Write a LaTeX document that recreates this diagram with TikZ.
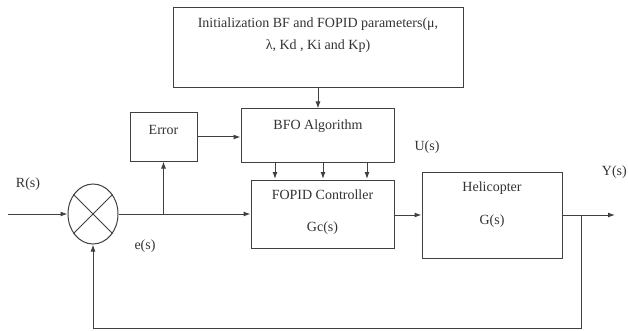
\documentclass[tikz,border=0pt]{standalone}
\usepackage{fontspec}
\setmainfont{Liberation Serif}
\usetikzlibrary{shapes.geometric,arrows.meta}

\begin{document}
\begin{tikzpicture}[x=1pt,y=-1pt]
\tikzstyle{every node}=[font=\fontsize{14}{22}\selectfont,text=black!80];
\tikzstyle{block}=[draw=black!75,line width=1pt,inner sep=0pt];
\tikzstyle{arrow}=[draw=black!75,line width=1pt,-{Latex[length=7pt,width=5pt]}];
\tikzstyle{wire}=[draw=black!75,line width=1pt];
\useasboundingbox[fill=white] (0,0) rectangle (628,331);
% blocks
\node[block,minimum width=290,minimum height=80] (init) at (318,48) {};
\node[align=center,anchor=north] (initlbl) at (318,14) {Initialization BF and FOPID parameters(μ,\\ λ, Kd , Ki and Kp)};
\node[block,minimum width=153,minimum height=53] (bfo) at (317.5,135.5) {};
\node (bfolbl) at (318,126) {BFO Algorithm};
\node[block,minimum width=67,minimum height=48] (error) at (163.5,137) {};
\node (errlbl) at (163.5,130) {Error};
\node[block,minimum width=143,minimum height=68] (fopid) at (322.5,214) {};
\node (fopidlbl) at (322.5,195) {FOPID Controller};
\node (gclbl) at (322.5,228) {Gc(s)};
\node[block,minimum width=140,minimum height=86] (heli) at (492,215) {};
\node (helilbl) at (492,188) {Helicopter};
\node (glbl) at (492,221) {G(s)};
\node[block,ellipse,minimum width=50,minimum height=60] (sum) at (93,214) {};
\draw[wire] (sum.45) -- (sum.225);
\draw[wire] (sum.135) -- (sum.315);
% signals
\coordinate (in) at (8,214);
\coordinate (br) at (error.south |- sum.east);
\coordinate (out) at (615,215);
\coordinate (fb) at (581,215);
\node (rlbl) at (28,184) {R(s)};
\node (elbl) at (145,246) {e(s)};
\node (ulbl) at (427,147) {U(s)};
\node[anchor=east,inner xsep=1pt] (ylbl) at (628,172) {Y(s)};
% connections
\draw[arrow] (init.south) -- (init.south |- bfo.north);
\draw[arrow] (error.east) -- (error.east -| bfo.west);
\foreach \x in {275,323,367}
  \draw[arrow] (\x,162) -- (\x,179);
\draw[arrow] (in) -- (sum.west);
\draw[arrow] (sum.east) -- (sum.east -| fopid.west);
\draw[arrow] (br) -- (error.south);
\draw[arrow] (fopid.east |- heli.west) -- (heli.west);
\draw[arrow] (heli.east) -- (out);
\draw[arrow] (fb) |- (sum.south |- 0,328) -- (sum.south);
\end{tikzpicture}
\end{document}
